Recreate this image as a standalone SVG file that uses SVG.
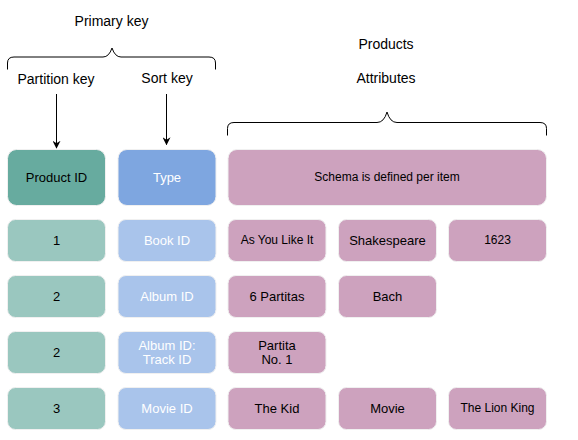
<svg xmlns="http://www.w3.org/2000/svg" width="578" height="440" viewBox="0 0 578 440">
<defs>
<marker id="ah" viewBox="0 0 10 10" refX="9" refY="5" markerWidth="8" markerHeight="8" markerUnits="userSpaceOnUse" orient="auto"><path d="M0,0 L10,5 L0,10 L3,5 Z" fill="#000"/></marker>
</defs>
<style>
text{font-family:"Liberation Sans",Arial,sans-serif;text-anchor:middle;dominant-baseline:central}
.lbl{font-size:14px;fill:#000}
.t13{font-size:13px}
.t12{font-size:12px}
.dk{fill:#000}
.wh{fill:#fff}
.brace{fill:none;stroke:#000;stroke-width:1}
.pk{fill:#67AB9F;stroke:#f0f0f0;stroke-width:1}
.pkr{fill:#9AC7BF;stroke:#f0f0f0;stroke-width:1}
.sk{fill:#7EA6E0;stroke:#f0f0f0;stroke-width:1}
.skr{fill:#A9C4EB;stroke:#f0f0f0;stroke-width:1}
.at{fill:#CDA2BE;stroke:#f0f0f0;stroke-width:1}
</style>
<rect width="578" height="440" fill="#fff"/>
<g id="labels">
<text class="lbl" x="111.5" y="21">Primary key</text>
<text class="lbl" x="56" y="78.5">Partition key</text>
<text class="lbl" x="167" y="77.5">Sort key</text>
<text class="lbl" x="386" y="44">Products</text>
<text class="lbl" x="386" y="77.5">Attributes</text>
</g>
<g id="braces">
<path class="brace" d="M7.5,69.5 V63 Q7.5,57 14,57 H103 Q109,57 112,48 Q115,57 121,57 H209 Q215.5,57 215.5,63 V69.5"/>
<path class="brace" d="M227.5,135.5 V128.5 Q227.5,122.5 234,122.5 H377 Q384,122.5 387,112 Q390,122.5 397,122.5 H540 Q546.5,122.5 546.5,128.5 V135.5"/>
</g>
<g id="connectors">
<line x1="56.5" y1="94" x2="56.5" y2="148" stroke="#000" stroke-width="1" marker-end="url(#ah)"/>
<line x1="166.5" y1="94" x2="166.5" y2="144.5" stroke="#000" stroke-width="1" marker-end="url(#ah)"/>
</g>
<g id="n-productid"><rect class="pk" x="7.5" y="149.5" width="98" height="56" rx="9"/><text class="t13 dk" x="56.5" y="177.5">Product ID</text></g>
<g id="n-type"><rect class="sk" x="118" y="149.5" width="98" height="56" rx="9"/><text class="t13 wh" x="167" y="177.5">Type</text></g>
<g id="n-schema"><rect class="at" x="228" y="149.5" width="318.5" height="56" rx="9"/><text class="t12 dk" x="387" y="177">Schema is defined per item</text></g>

<g id="n-r1-pk"><rect class="pkr" x="7.5" y="219.5" width="98" height="42" rx="8"/><text class="t13 dk" x="56.5" y="240.5">1</text></g>
<g id="n-r1-sk"><rect class="skr" x="118" y="219.5" width="98" height="42" rx="8"/><text class="t13 wh" x="167" y="240.5">Book ID</text></g>
<g id="n-r1-a1"><rect class="at" x="228" y="219.5" width="98" height="42" rx="8"/><text class="t12 dk" x="277" y="240">As You Like It</text></g>
<g id="n-r1-a2"><rect class="at" x="338.5" y="219.5" width="98" height="42" rx="8"/><text class="t13 dk" x="387.5" y="240.5">Shakespeare</text></g>
<g id="n-r1-a3"><rect class="at" x="448.5" y="219.5" width="98" height="42" rx="8"/><text class="t12 dk" x="497.5" y="240">1623</text></g>

<g id="n-r2-pk"><rect class="pkr" x="7.5" y="275.5" width="98" height="42" rx="8"/><text class="t13 dk" x="56.5" y="296.5">2</text></g>
<g id="n-r2-sk"><rect class="skr" x="118" y="275.5" width="98" height="42" rx="8"/><text class="t13 wh" x="167" y="296.5">Album ID</text></g>
<g id="n-r2-a1"><rect class="at" x="228" y="275.5" width="98" height="42" rx="8"/><text class="t13 dk" x="277" y="296.5">6 Partitas</text></g>
<g id="n-r2-a2"><rect class="at" x="338.5" y="275.5" width="98" height="42" rx="8"/><text class="t13 dk" x="387.5" y="296.5">Bach</text></g>

<g id="n-r3-pk"><rect class="pkr" x="7.5" y="331.5" width="98" height="42" rx="8"/><text class="t13 dk" x="56.5" y="352.5">2</text></g>
<g id="n-r3-sk"><rect class="skr" x="118" y="331.5" width="98" height="42" rx="8"/><text class="t13 wh" x="167" y="345.5">Album ID:</text><text class="t13 wh" x="167" y="359.5">Track ID</text></g>
<g id="n-r3-a1"><rect class="at" x="228" y="331.5" width="98" height="42" rx="8"/><text class="t13 dk" x="277" y="345.5">Partita</text><text class="t13 dk" x="277" y="359.5">No. 1</text></g>

<g id="n-r4-pk"><rect class="pkr" x="7.5" y="387.5" width="98" height="42" rx="8"/><text class="t13 dk" x="56.5" y="408.5">3</text></g>
<g id="n-r4-sk"><rect class="skr" x="118" y="387.5" width="98" height="42" rx="8"/><text class="t13 wh" x="167" y="408.5">Movie ID</text></g>
<g id="n-r4-a1"><rect class="at" x="228" y="387.5" width="98" height="42" rx="8"/><text class="t13 dk" x="277" y="408.5">The Kid</text></g>
<g id="n-r4-a2"><rect class="at" x="338.5" y="387.5" width="98" height="42" rx="8"/><text class="t13 dk" x="387.5" y="408.5">Movie</text></g>
<g id="n-r4-a3"><rect class="at" x="448.5" y="387.5" width="98" height="42" rx="8"/><text class="t12 dk" x="497.5" y="408">The Lion King</text></g>
</svg>
